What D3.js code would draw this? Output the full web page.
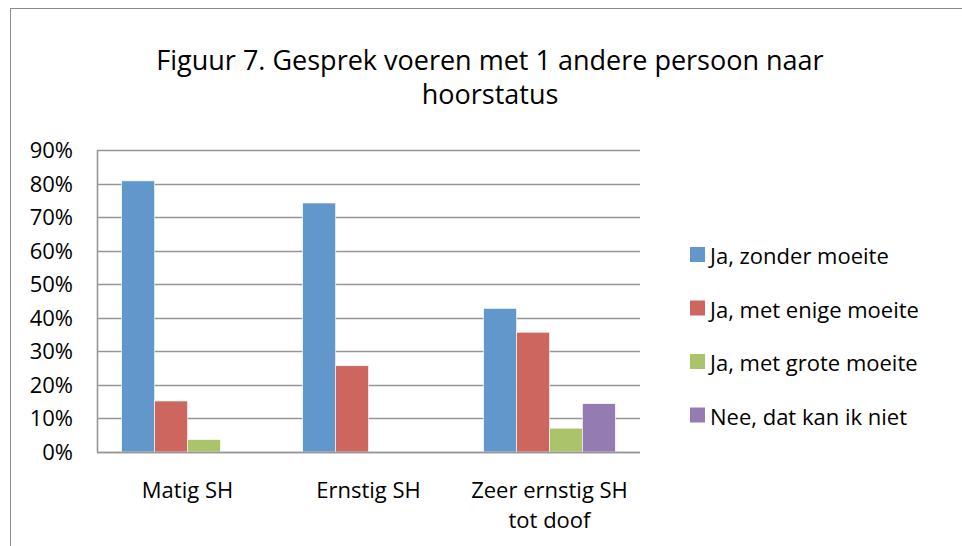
<!DOCTYPE html>
<html>
<head>
<meta charset="utf-8">
<script src="https://cdn.jsdelivr.net/npm/d3@7"></script>
<style>
  body { margin: 0; background: #fff; }
  svg text { font-family: "Open Sans", sans-serif; fill: #000; }
</style>
</head>
<body>
<svg id="chart" width="962" height="546"></svg>
<script>
// Data.
const categories = ["Matig SH", "Ernstig SH", "Zeer ernstig SH tot doof"];
const seriesNames = ["Ja, zonder moeite", "Ja, met enige moeite", "Ja, met grote moeite", "Nee, dat kan ik niet"];
const zonderMoeite = [80.8, 74.2, 42.8];
const enigeMoeite = [15.2, 25.7, 35.7];
const groteMoeite = [3.7, 0, 7.1];
const kanNiet = [0, 0, 14.4];
const yTicks = [0, 10, 20, 30, 40, 50, 60, 70, 80, 90];
const colors = ["#6197ca", "#cd665f", "#abc46c", "#947cb2"];

const series = [zonderMoeite, enigeMoeite, groteMoeite, kanNiet];

const svg = d3.select("#chart");

// Outer chart border.
svg.append("rect")
  .attr("x", 10.5).attr("y", 8.5)
  .attr("width", 970).attr("height", 560)
  .attr("fill", "none").attr("stroke", "#8c8c8c");

// Title.
const title = svg.append("text")
  .attr("text-anchor", "middle")
  .attr("font-size", "27px");
title.append("tspan").attr("x", 490).attr("y", 70).text("Figuur 7. Gesprek voeren met 1 andere persoon naar");
title.append("tspan").attr("x", 490).attr("y", 104).text("hoorstatus");

const plot = { left: 97, right: 640, top: 150, bottom: 452 };

const x = d3.scaleBand()
  .domain(categories)
  .range([plot.left, plot.right])
  .paddingInner(0)
  .paddingOuter(0);

const x1 = d3.scaleBand()
  .domain(d3.range(seriesNames.length))
  .range([0, x.bandwidth()])
  .paddingOuter(0.75)
  .paddingInner(0);

const y = d3.scaleLinear().domain([0, 90]).range([plot.bottom, plot.top]);

// Gridlines.
svg.append("g")
  .selectAll("line")
  .data(yTicks)
  .join("line")
  .attr("x1", plot.left).attr("x2", plot.right)
  .attr("y1", (d) => Math.round(y(d)) + 0.5)
  .attr("y2", (d) => Math.round(y(d)) + 0.5)
  .attr("stroke", "#969696")
  .attr("stroke-width", 1.6);

// Y axis line.
svg.append("line")
  .attr("x1", plot.left + 0.5).attr("x2", plot.left + 0.5)
  .attr("y1", plot.top).attr("y2", plot.bottom)
  .attr("stroke", "#969696").attr("stroke-width", 1.6);

// Y tick labels.
svg.append("g")
  .selectAll("text")
  .data(yTicks)
  .join("text")
  .attr("x", 73)
  .attr("y", (d) => y(d) + 8)
  .attr("text-anchor", "end")
  .attr("font-size", "22px")
  .text((d) => d + "%");

// Bars.
const groups = svg.append("g")
  .selectAll("g")
  .data(categories)
  .join("g")
  .attr("transform", (d) => `translate(${x(d)},0)`);

groups.selectAll("rect")
  .data((d, ci) => series.map((s, si) => ({ si, value: s[ci] })))
  .join("rect")
  .filter((d) => d.value > 0)
  .attr("x", (d) => x1(d.si))
  .attr("width", x1.bandwidth())
  .attr("y", (d) => y(d.value))
  .attr("height", (d) => y(0) - y(d.value))
  .attr("fill", (d) => colors[d.si])
  .attr("stroke", "#fff")
  .attr("stroke-width", 0.6);

// X axis line on top of bars.
svg.append("line")
  .attr("x1", plot.left).attr("x2", plot.right)
  .attr("y1", plot.bottom + 0.5).attr("y2", plot.bottom + 0.5)
  .attr("stroke", "#969696").attr("stroke-width", 1.6);

// Category labels.
const catLines = [["Matig SH"], ["Ernstig SH"], ["Zeer ernstig SH", "tot doof"]];
svg.append("g")
  .selectAll("text")
  .data(categories)
  .join("text")
  .attr("text-anchor", "middle")
  .attr("font-size", "22px")
  .each(function (d, i) {
    d3.select(this).selectAll("tspan")
      .data(catLines[i])
      .join("tspan")
      .attr("x", x(d) + x.bandwidth() / 2)
      .attr("y", (t, j) => 498 + j * 30)
      .text((t) => t);
  });

// Legend.
const legend = svg.append("g")
  .selectAll("g")
  .data(seriesNames)
  .join("g")
  .attr("transform", (d, i) => `translate(690,${255 + i * 53.5})`);

legend.append("rect")
  .attr("x", 0).attr("y", -8)
  .attr("width", 15).attr("height", 15)
  .attr("fill", (d, i) => colors[i]);

legend.append("text")
  .attr("x", 20).attr("y", 9)
  .attr("font-size", "22px")
  .text((d) => d);
</script>
</body>
</html>
